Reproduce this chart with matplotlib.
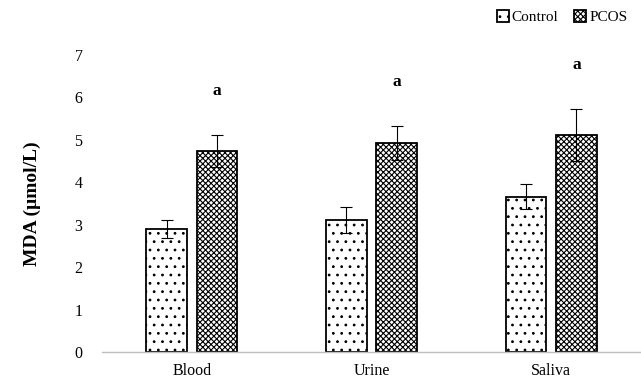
import matplotlib
matplotlib.use("Agg")
import matplotlib.pyplot as plt
import numpy as np

categories = ["Blood", "Urine", "Saliva"]
control_mean = [2.90, 3.11, 3.66]
control_sd = [0.21, 0.31, 0.30]
pcos_mean = [4.74, 4.93, 5.12]
pcos_sd = [0.38, 0.40, 0.61]
sig_labels = ["a", "a", "a"]
y_ticks = [0, 1, 2, 3, 4, 5, 6, 7]

plt.rcParams['font.family'] = ['Liberation Serif', 'DejaVu Serif']
plt.rcParams['hatch.linewidth'] = 0.8

fig = plt.figure(figsize=(6.41, 3.83), dpi=100)
ax = fig.add_axes([102/641, 1 - 352/383, (641 - 102)/641, (352 - 55)/383])

x = np.arange(len(categories))
w = 0.228
off = 0.14
ax.bar(x - off, control_mean, w, color='white', edgecolor='black', hatch='..',
       linewidth=1.3, label='Control', zorder=2)
ax.bar(x + off, pcos_mean, w, color='white', edgecolor='black', hatch='xxxxxx',
       linewidth=1.3, label='PCOS', zorder=2)
ax.errorbar(x - off, control_mean, yerr=control_sd, fmt='none', ecolor='black',
            elinewidth=0.8, capsize=4, capthick=0.8, zorder=3)
ax.errorbar(x + off, pcos_mean, yerr=pcos_sd, fmt='none', ecolor='black',
            elinewidth=0.8, capsize=4, capthick=0.8, zorder=3)

for i, lab in enumerate(sig_labels):
    ax.text(x[i] + off, pcos_mean[i] + pcos_sd[i] + 1.03, lab, ha='center', va='center',
            fontsize=12.5, fontweight='bold')

ax.set_xlim(-0.5, 2.5)
ax.set_ylim(0, 7)
ax.set_yticks(y_ticks)
ax.set_xticks(x)
ax.set_xticklabels(categories, fontsize=11.5)
ax.tick_params(axis='y', length=0, labelsize=11.5, pad=14)
ax.tick_params(axis='x', length=0, labelsize=11.5, pad=8)
for s in ['top', 'right', 'left']:
    ax.spines[s].set_visible(False)
ax.spines['bottom'].set_color('#bfbfbf')
ax.spines['bottom'].set_linewidth(1.0)

ax.set_ylabel('MDA (µmol/L)', fontsize=14, fontweight='bold', labelpad=24)

leg = fig.legend(loc='upper right', bbox_to_anchor=(1.0, 1.01), ncol=2, frameon=False,
                 fontsize=11, handlelength=0.8, handleheight=0.8, handletextpad=0.2,
                 columnspacing=1.0)

fig.savefig('out.png', dpi=100)
